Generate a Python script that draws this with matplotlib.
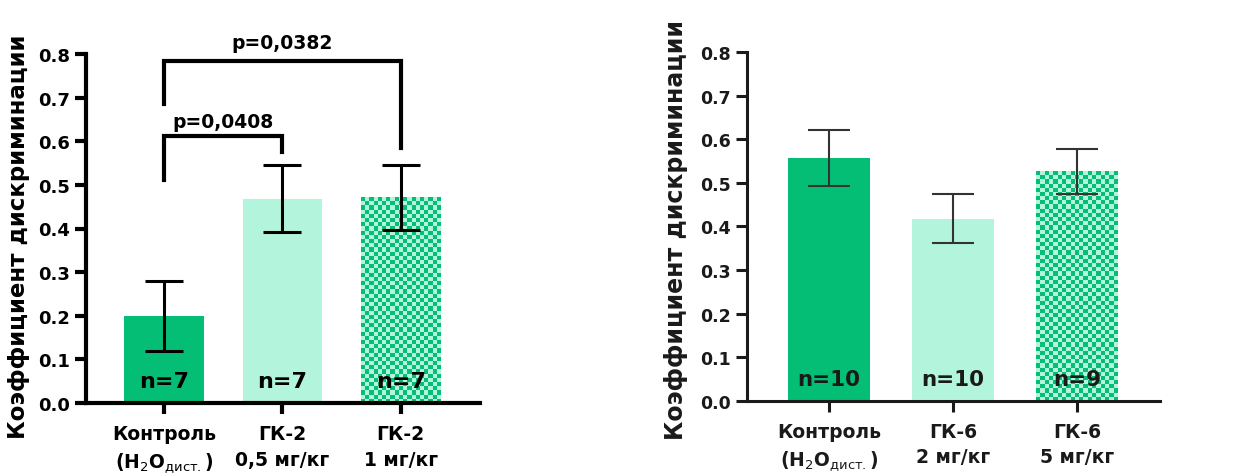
import numpy as np
import matplotlib
matplotlib.use("Agg")
import matplotlib.pyplot as plt

plt.rcParams['font.family'] = ['DejaVu Sans']
plt.rcParams['mathtext.fontset'] = 'dejavusans'

# ---- data ----
left_categories = ["Контроль\n(H$_2$O$_{\\mathrm{дист.}}$)", "ГК-2\n0,5 мг/кг", "ГК-2\n1 мг/кг"]
left_means = [0.20, 0.468, 0.470]
left_err_low = [0.12, 0.392, 0.397]
left_err_high = [0.28, 0.545, 0.545]
left_n = ["n=7", "n=7", "n=7"]
left_pvalues = ["p=0,0408", "p=0,0382"]

right_categories = ["Контроль\n(H$_2$O$_{\\mathrm{дист.}}$)", "ГК-6\n2 мг/кг", "ГК-6\n5 мг/кг"]
right_means = [0.558, 0.418, 0.528]
right_err_low = [0.494, 0.361, 0.475]
right_err_high = [0.622, 0.475, 0.577]
right_n = ["n=10", "n=10", "n=9"]

yticks = [0.0, 0.1, 0.2, 0.3, 0.4, 0.5, 0.6, 0.7, 0.8]
ylabel = "Коэффициент дискриминации"

DARK = "#05BE75"
LIGHT = "#B3F5DC"

fig = plt.figure(figsize=(12.33, 4.77), dpi=100)
axL = fig.add_axes([86/1233, 1-404/477, (480-86)/1233, (404-55)/477])
axR = fig.add_axes([747/1233, 1-401.7/477, (1160-747)/1233, (401.7-53.3)/477])


def checker(ax, bar, cell_px=4.2):
    x0, y0 = bar.get_x(), bar.get_y()
    w, h = bar.get_width(), bar.get_height()
    p0 = ax.transData.transform((x0, y0))
    p1 = ax.transData.transform((x0 + w, y0 + h))
    nx = max(1, int(round(abs(p1[0] - p0[0]) / cell_px)))
    ny = max(1, int(round(abs(p1[1] - p0[1]) / cell_px)))
    arr = (np.add.outer(np.arange(ny), np.arange(nx)) % 2).astype(float)
    cmap = matplotlib.colors.ListedColormap([DARK, LIGHT])
    ax.imshow(arr, extent=(x0, x0 + w, y0, y0 + h), cmap=cmap, origin='lower',
              interpolation='nearest', aspect='auto', zorder=1)


def draw(ax, cats, means, lo, hi, nlab, width, lw, errcolor, errlw, cap, fs,
         xfs, nfs, lfs, txtcolor):
    x = np.arange(len(cats))
    ax.set_xlim(-0.66, 2.67)
    ax.set_ylim(0, 0.8)
    bars = ax.bar(x, means, width=width, color=[DARK, LIGHT, DARK], zorder=1)
    bars[2].set_visible(False)
    checker(ax, bars[2])
    ax.set_xlim(-0.66, 2.67)
    ax.set_ylim(0, 0.8)
    m = np.array(means)
    yerr = np.vstack([m - np.array(lo), np.array(hi) - m])
    ax.errorbar(x, m, yerr=yerr, fmt='none', ecolor=errcolor, elinewidth=errlw,
                capsize=cap, capthick=errlw, zorder=3)
    for xi, t in zip(x, nlab):
        ax.text(xi, 0.05, t, ha='center', va='center', fontsize=nfs,
                fontweight='bold', color=txtcolor, zorder=4)
    for s in ['top', 'right']:
        ax.spines[s].set_visible(False)
    for s in ['left', 'bottom']:
        ax.spines[s].set_linewidth(lw)
        ax.spines[s].set_color(txtcolor)
    ax.set_yticks(yticks)
    ax.set_yticklabels([f"{v:.1f}" for v in yticks])
    ax.set_xticks(x)
    ax.set_xticklabels(cats, linespacing=1.45)
    ax.tick_params(axis='both', width=lw, length=8, color=txtcolor,
                   labelsize=fs, labelcolor=txtcolor)
    ax.tick_params(axis='x', pad=7, labelsize=xfs)
    for lab in ax.get_xticklabels() + ax.get_yticklabels():
        lab.set_fontweight('bold')
    ax.set_ylabel(ylabel, fontsize=lfs, fontweight='bold', color=txtcolor)
    return x


xL = draw(axL, left_categories, left_means, left_err_low, left_err_high, left_n,
          0.67, 3.0, 'black', 2.2, 14, 13, 13.5, 16, 16.5, 'black')
xR = draw(axR, right_categories, right_means, right_err_low, right_err_high, right_n,
          0.66, 2.2, '#333333', 1.5, 15, 12.5, 13.5, 15.5, 17, '#1a1a1a')
axL.yaxis.set_label_coords(-0.142, 0.478)
axR.yaxis.set_label_coords(-0.143, 0.493)

# significance brackets (left)
def bracket(ax, x1, x2, top, l1, l2, text, ty, tx):
    ax.plot([x1, x1, x2, x2], [l1, top, top, l2], color='black', lw=3,
            solid_joinstyle='miter', clip_on=False, zorder=5)
    ax.text(tx, ty, text, ha='center', va='center', fontsize=13.5,
            fontweight='bold', clip_on=False)

bracket(axL, xL[0], xL[1], 0.611, 0.512, 0.576, left_pvalues[0], 0.645, (xL[0] + xL[1]) / 2)
bracket(axL, xL[0], xL[2], 0.783, 0.685, 0.584, left_pvalues[1], 0.827, xL[1])

fig.savefig("out.png", dpi=100)
